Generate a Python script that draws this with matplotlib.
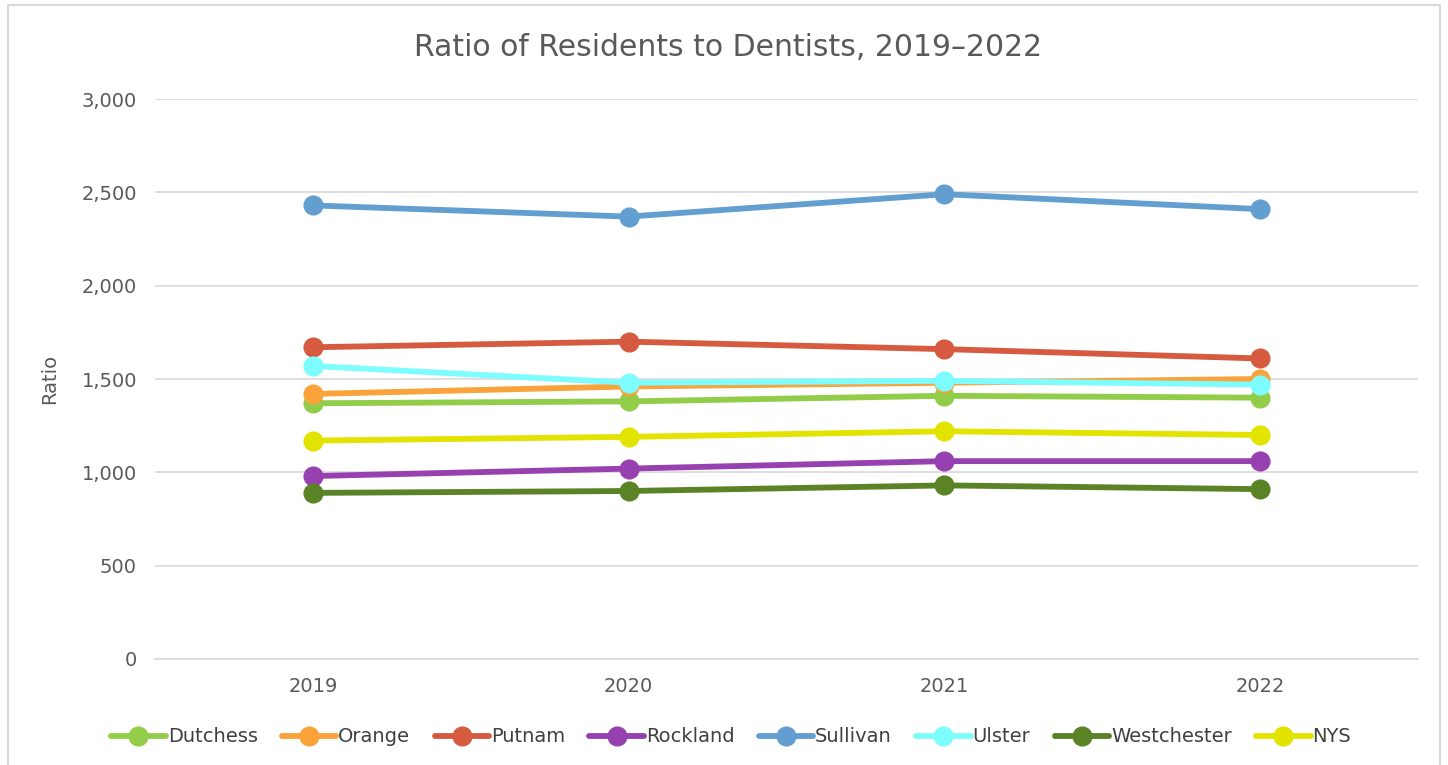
import numpy as np
import matplotlib.pyplot as plt
from matplotlib.patches import Rectangle

# data
years = ["2019", "2020", "2021", "2022"]
series_names = ["Dutchess", "Orange", "Putnam", "Rockland", "Sullivan", "Ulster", "Westchester", "NYS"]
dutchess = [1370, 1380, 1410, 1400]
orange = [1420, 1460, 1480, 1500]
putnam = [1670, 1700, 1660, 1610]
rockland = [980, 1020, 1060, 1060]
sullivan = [2430, 2370, 2490, 2410]
ulster = [1570, 1480, 1490, 1470]
westchester = [890, 900, 930, 910]
nys = [1170, 1190, 1220, 1200]
yticks = [0, 500, 1000, 1500, 2000, 2500, 3000]

values = [dutchess, orange, putnam, rockland, sullivan, ulster, westchester, nys]
colors = ["#92CD4A", "#F9A33A", "#D55A3F", "#9740B0", "#629FD0", "#7DFDFD", "#5A8325", "#E3E300"]

fig = plt.figure(figsize=(14.48, 7.65), dpi=100)
ax = fig.add_axes([155/1448, 1-659/765, (1418-155)/1448, (659-99)/765])

x = np.arange(len(years))
for name, vals, c in zip(series_names, values, colors):
    ax.plot(x, vals, color=c, lw=4.2, marker="o", markersize=13.5, label=name,
            solid_capstyle="round")

ax.set_xlim(-0.5, len(years) - 0.5)
ax.set_ylim(0, 3000)
ax.set_xticks(x)
ax.set_xticklabels(years)
ax.set_yticks(yticks)
ax.set_yticklabels([f"{v:,}" for v in yticks])
ax.tick_params(length=0, labelsize=14, colors="#595959")
ax.tick_params(axis="x", pad=13)
ax.tick_params(axis="y", pad=13)
ax.grid(axis="y", color="#D9D9D9", lw=1.2)
ax.set_axisbelow(True)
for s in ["top", "right", "left"]:
    ax.spines[s].set_visible(False)
ax.spines["bottom"].set_color("#D9D9D9")
ax.spines["bottom"].set_linewidth(1.2)

ax.set_ylabel("Ratio", fontsize=14, color="#595959", labelpad=16)
fig.text(0.503, 1-47/765, "Ratio of Residents to Dentists, 2019\u20132022",
         ha="center", va="center", fontsize=21.5, color="#595959")

fig.legend(loc="center", bbox_to_anchor=(0.505, 1-737/765), ncol=8, frameon=False,
           fontsize=14, handlelength=2.8, columnspacing=1.25, handletextpad=0.1,
           labelcolor="#404040")

# outer chart border
fig.patches.append(Rectangle((8/1448, -0.01), (1440-8)/1448, 1-5/765+0.01,
                             transform=fig.transFigure, fill=False,
                             edgecolor="#D9D9D9", lw=1.5))

plt.savefig("out.png", dpi=100)
